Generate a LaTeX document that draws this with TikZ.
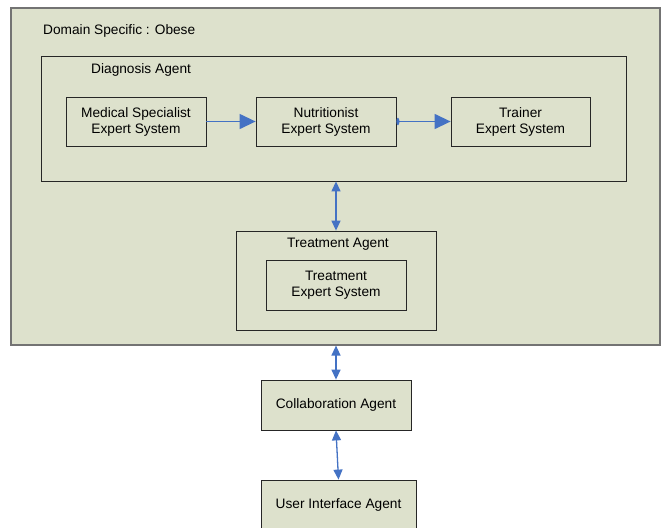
\documentclass[tikz,border=0pt]{standalone}
\usepackage{fontspec}
\setmainfont{Liberation Sans}
\usetikzlibrary{arrows.meta}
\definecolor{boxfill}{RGB}{221,225,204}
\definecolor{arrowblue}{RGB}{68,114,196}
\begin{document}
\begin{tikzpicture}[x=1pt,y=-1pt,
  every node/.style={font=\fontsize{13.7}{16}\selectfont},
  bx/.style={draw=black!85,line width=0.8pt,fill=boxfill,inner sep=0pt,align=center},
  harrow/.style={draw=arrowblue,line width=1.3pt,-{Triangle[length=16pt,width=15pt]}},
  varrow/.style={draw=arrowblue,line width=1.3pt,{Triangle[length=10pt,width=9pt]}-{Triangle[length=10pt,width=9pt]}},
  lbl/.style={inner sep=0pt}]
\useasboundingbox[fill=white] (0,0) rectangle (663,527);
\node[bx,draw=black!55,line width=1.2pt,minimum width=649pt,minimum height=337pt] (outer) at (335.5,176.5) {};
\node[lbl,anchor=west] (domain) at (43,31) {Domain Specific : Obese};
\node[bx,minimum width=585pt,minimum height=125pt] (diag) at (333.5,118.5) {};
\node[lbl,anchor=west] (diaglbl) at (91,70) {Diagnosis Agent};
\node[bx,minimum width=140pt,minimum height=49pt] (med) at (136,121.5) {Medical Specialist\\Expert System};
\node[bx,minimum width=140pt,minimum height=49pt] (nut) at (326,121.5) {Nutritionist\\Expert System};
\node[bx,minimum width=139pt,minimum height=49pt] (tra) at (520.5,121.5) {Trainer\\Expert System};
\node[bx,minimum width=200pt,minimum height=99pt] (tagent) at (336,280.5) {};
\node[lbl] (tlbl) at (338,244) {Treatment Agent};
\node[bx,minimum width=140pt,minimum height=50pt] (tes) at (336,285) {Treatment\\Expert System};
\node[bx,minimum width=150pt,minimum height=50pt] (collab) at (336,405) {Collaboration Agent};
\node[bx,minimum width=155pt,minimum height=50pt] (ui) at (338.5,505) {User Interface Agent};
\draw[harrow] (med.east) -- (nut.west);
\draw[harrow,{Circle[length=3pt,width=7pt]}-{Triangle[length=16pt,width=15pt]}] (nut.east) -- (tra.west);
\draw[varrow] (tagent.north |- diag.south) -- (tagent.north);
\draw[varrow] (collab.north |- outer.south) -- (collab.north);
\draw[varrow] (collab.south) -- (ui.north);
\end{tikzpicture}
\end{document}
